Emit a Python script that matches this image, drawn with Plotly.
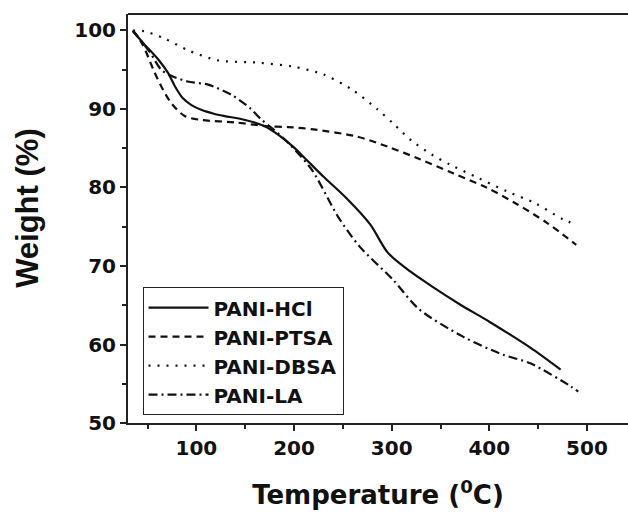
import plotly.graph_objects as go

# ---- data ----
hcl_x = [35, 47, 61, 71, 78, 86, 95, 105, 118, 129, 150, 170, 184, 199, 213, 230, 254, 278, 296, 319, 340, 370, 400, 442, 473]
hcl_y = [99.9, 98.2, 96.3, 94.6, 92.9, 91.4, 90.5, 89.9, 89.4, 89.1, 88.6, 87.8, 86.7, 85.2, 83.5, 81.4, 78.6, 75.3, 71.7, 69.3, 67.5, 65.1, 62.9, 59.6, 56.8]

ptsa_x = [35, 45, 56, 64, 74, 88, 105, 139, 173, 194, 220, 264, 296, 329, 363, 397, 428, 459, 489]
ptsa_y = [100, 98.2, 95.0, 92.9, 90.8, 89.1, 88.6, 88.3, 87.8, 87.7, 87.4, 86.5, 85.2, 83.6, 81.8, 80.0, 77.9, 75.5, 72.7]

dbsa_x = [35, 47, 67, 93, 122, 163, 199, 230, 259, 285, 302, 320, 341, 360, 389, 418, 447, 476, 486]
dbsa_y = [100, 99.9, 99.0, 97.4, 96.2, 95.9, 95.4, 94.4, 92.5, 90.0, 88.1, 86.0, 84.2, 82.9, 81.2, 79.5, 78.0, 75.9, 75.4]

la_x = [35, 52, 64, 73, 91, 112, 136, 155, 167, 177, 194, 218, 245, 267, 301, 328, 373, 414, 442, 483, 491]
la_y = [100, 97.3, 95.0, 94.3, 93.5, 93.1, 91.8, 90.1, 88.6, 87.6, 85.7, 82.3, 76.3, 72.5, 68.3, 64.5, 61.0, 58.7, 57.6, 54.7, 54.0]

series_names = ["PANI-HCl", "PANI-PTSA", "PANI-DBSA", "PANI-LA"]
x_ticks = [100, 200, 300, 400, 500]
y_ticks = [50, 60, 70, 80, 90, 100]

FONT = "DejaVu Sans, sans-serif"
FONT_Y = "Liberation Sans, Arial, sans-serif"
INK = "#111111"
AX = "#222222"

fig = go.Figure()
styles = [
    (hcl_x, hcl_y, "solid"),
    (ptsa_x, ptsa_y, "7px,5px"),
    (dbsa_x, dbsa_y, "2px,7px"),
    (la_x, la_y, "9px,4px,2px,4px"),
]
for i, (name, (xs, ys, dash)) in enumerate(zip(series_names, styles)):
    fig.add_trace(go.Scatter(
        x=xs, y=ys, mode="lines", name=name, legendgroup=f"g{i}",
        line=dict(color=INK, width=2.2, dash=dash, shape="spline", smoothing=0.8),
    ))

axis_common = dict(
    showgrid=False, zeroline=False, showline=True, linecolor=AX, linewidth=2,
    ticks="outside", ticklen=6, tickwidth=2, tickcolor=AX,
    tickfont=dict(family=FONT, size=20, color=INK, weight="bold"),
)
fig.update_xaxes(
    range=[30, 542], tickvals=x_ticks, ticktext=[str(v) for v in x_ticks],
    minor=dict(dtick=50, tick0=0, ticklen=4, tickwidth=2, tickcolor=AX, ticks="outside"),
    title=dict(text="Temperature (<sup>0</sup>C)", font=dict(family=FONT, size=26, color=INK, weight="bold"), standoff=27),
    **axis_common,
)
fig.update_yaxes(
    range=[50, 102.1], tickvals=y_ticks, ticktext=[str(v) for v in y_ticks],
    minor=dict(dtick=5, tick0=0, ticklen=4, tickwidth=2, tickcolor=AX, ticks="outside"),
    **axis_common,
)

# y-axis title placed as annotation (reference sits slightly above axis centre)
fig.add_annotation(
    text="Weight (%)", xref="paper", yref="paper", x=-0.2, y=0.526,
    xanchor="center", yanchor="middle", textangle=-90, showarrow=False,
    font=dict(family=FONT_Y, size=31, color=INK, weight="bold"),
)

# top frame line
fig.add_shape(type="line", xref="paper", yref="paper", x0=0, x1=1, y0=1, y1=1,
              line=dict(color=AX, width=2))

fig.update_layout(
    width=628, height=515,
    margin=dict(l=128, r=0, t=14, b=92),
    paper_bgcolor="white", plot_bgcolor="white",
    showlegend=True,
    legend=dict(
        x=0.029, y=0.332, xanchor="left", yanchor="top",
        bordercolor=AX, borderwidth=1, bgcolor="white",
        font=dict(family=FONT, size=20, color=INK, weight="bold"),
        itemwidth=60, tracegroupgap=0,
    ),
)

fig.write_html("out.html")
